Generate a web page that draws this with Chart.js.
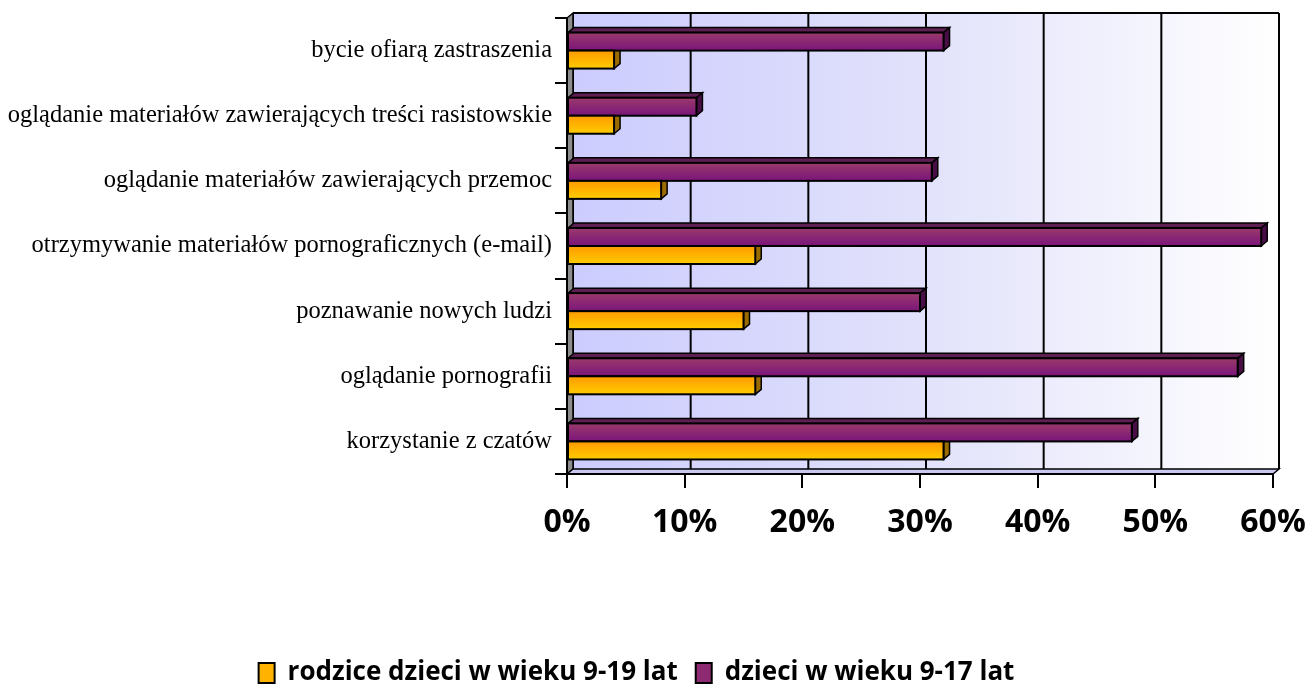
<!DOCTYPE html>
<html>
<head>
<meta charset="utf-8">
<script src="https://cdn.jsdelivr.net/npm/chart.js@4/dist/chart.umd.min.js"></script>
<style>
html,body{margin:0;padding:0;background:#fff;}
#wrap{width:1310px;height:686px;}
</style>
</head>
<body>
<div id="wrap"><canvas id="c" width="1310" height="686"></canvas></div>
<script>
const categories = [
  "bycie ofiarą zastraszenia",
  "oglądanie materiałów zawierających treści rasistowskie",
  "oglądanie materiałów zawierających przemoc",
  "otrzymywanie materiałów pornograficznych (e-mail)",
  "poznawanie nowych ludzi",
  "oglądanie pornografii",
  "korzystanie z czatów"
];
const seriesNames = ["rodzice dzieci w wieku 9-19 lat", "dzieci w wieku 9-17 lat"];
const parentsValues = [4, 4, 8, 16, 15, 16, 32];
const childrenValues = [32, 11, 31, 59, 30, 57, 48];
const tickValues = [0, 10, 20, 30, 40, 50, 60];

const DX = 6, DY = 5;

const styles = [
  {front:['#9b3a6c','#7a157a'], top:'#5e1f52', side:'#4a0e46', solid:'#8e2a72'},
  {front:['#ff9a00','#ffcc00'], top:'#b07a00', side:'#9a6c00', solid:'#ffb300'}
];

function poly(ctx, pts, fill, stroke, lw){
  ctx.beginPath();
  ctx.moveTo(pts[0][0], pts[0][1]);
  for (let i=1;i<pts.length;i++) ctx.lineTo(pts[i][0], pts[i][1]);
  ctx.closePath();
  if (fill){ ctx.fillStyle = fill; ctx.fill(); }
  if (stroke){ ctx.strokeStyle = stroke; ctx.lineWidth = lw||1.5; ctx.stroke(); }
}

const wallsPlugin = {
  id: 'walls',
  beforeDraw(chart){
    const {ctx, chartArea:{left:L, right:R, top:T, bottom:B}} = chart;
    const xs = chart.scales.x;
    ctx.save();
    const g = ctx.createLinearGradient(L+DX, 0, R+DX, 0);
    g.addColorStop(0, '#ccccff');
    g.addColorStop(0.5, '#e2e2fb');
    g.addColorStop(1, '#ffffff');
    ctx.fillStyle = g;
    ctx.fillRect(L+DX, T-DY, R-L, B-T);
    ctx.strokeStyle = '#000';
    ctx.lineWidth = 2;
    tickValues.forEach(v => {
      const px = xs.getPixelForValue(v) + DX;
      ctx.beginPath(); ctx.moveTo(px, T-DY); ctx.lineTo(px, B-DY); ctx.stroke();
    });
    ctx.beginPath(); ctx.moveTo(L+DX, T-DY); ctx.lineTo(R+DX, T-DY); ctx.stroke();
    poly(ctx, [[L,T],[L+DX,T-DY],[L+DX,B-DY],[L,B]], '#8c8c8c', '#000', 1.5);
    poly(ctx, [[L,B],[L+DX,B-DY],[R+DX,B-DY],[R,B]], '#c8c8f0', '#000', 1.5);
    ctx.restore();
  },
  beforeDatasetsDraw(chart){
    const ctx = chart.ctx;
    ctx.save();
    chart.data.datasets.forEach((ds, i) => {
      const meta = chart.getDatasetMeta(i);
      const st = styles[i];
      meta.data.forEach(el => {
        const l = el.base, r = el.x, t = el.y - el.height/2, b = el.y + el.height/2;
        poly(ctx, [[l,t],[l+DX,t-DY],[r+DX,t-DY],[r,t]], st.top, '#000', 1.5);
        poly(ctx, [[r,t],[r+DX,t-DY],[r+DX,b-DY],[r,b]], st.side, '#000', 1.5);
      });
    });
    ctx.restore();
  },
  afterDatasetsDraw(chart){
    const ctx = chart.ctx;
    ctx.save();
    chart.data.datasets.forEach((ds, i) => {
      const meta = chart.getDatasetMeta(i);
      const st = styles[i];
      meta.data.forEach(el => {
        const l = el.base, r = el.x, t = el.y - el.height/2, b = el.y + el.height/2;
        const g = ctx.createLinearGradient(0, t, 0, b);
        g.addColorStop(0, st.front[0]);
        g.addColorStop(1, st.front[1]);
        ctx.fillStyle = g;
        ctx.fillRect(l, t, r-l, b-t);
        ctx.strokeStyle = '#000';
        ctx.lineWidth = 2;
        ctx.strokeRect(l, t, r-l, b-t);
      });
    });
    ctx.restore();
  }
};

new Chart(document.getElementById('c'), {
  type: 'bar',
  data: {
    labels: categories,
    datasets: [
      {label: seriesNames[1], data: childrenValues, backgroundColor: styles[0].solid, borderColor:'#000', borderWidth:2, borderSkipped:false},
      {label: seriesNames[0], data: parentsValues, backgroundColor: styles[1].solid, borderColor:'#000', borderWidth:2, borderSkipped:false}
    ]
  },
  options: {
    indexAxis: 'y',
    responsive: false,
    animation: false,
    maintainAspectRatio: false,
    barPercentage: 1,
    categoryPercentage: 0.553,
    layout: {padding: {top: 18, right: 37, bottom: -10, left: 0}},
    plugins: {
      legend: {
        position: 'bottom',
        reverse: true,
        labels: {
          color: '#000',
          font: {family: '"Open Sans", sans-serif', size: 26, weight: 'bold'},
          boxWidth: 16, boxHeight: 20, padding: 18
        }
      },
      tooltip: {enabled: false}
    },
    scales: {
      x: {
        min: 0, max: 60,
        afterBuildTicks(s){ s.ticks = tickValues.map(v => ({value: v})); },
        afterFit(s){ s.height = 168; s.paddingLeft = 0; s.paddingRight = 0; },
        ticks: {
          color: '#000',
          font: {family: '"Open Sans", sans-serif', size: 32, weight: 'bold'},
          padding: 16,
          maxRotation: 0,
          callback: v => v + '%'
        },
        grid: {drawOnChartArea: false, drawTicks: true, tickLength: 14, color: '#000', lineWidth: 2},
        border: {display: true, color: '#000', width: 2}
      },
      y: {
        afterFit(s){ s.width = 567; s.paddingTop = 0; s.paddingBottom = 0; },
        ticks: {
          color: '#000',
          font: {family: '"Liberation Serif", "Times New Roman", serif', size: 24.5},
          padding: 3,
          autoSkip: false
        },
        grid: {offset: true, drawOnChartArea: false, drawTicks: true, tickLength: 12, color: '#000', lineWidth: 2},
        border: {display: true, color: '#000', width: 2}
      }
    }
  },
  plugins: [wallsPlugin]
});
</script>
</body>
</html>
